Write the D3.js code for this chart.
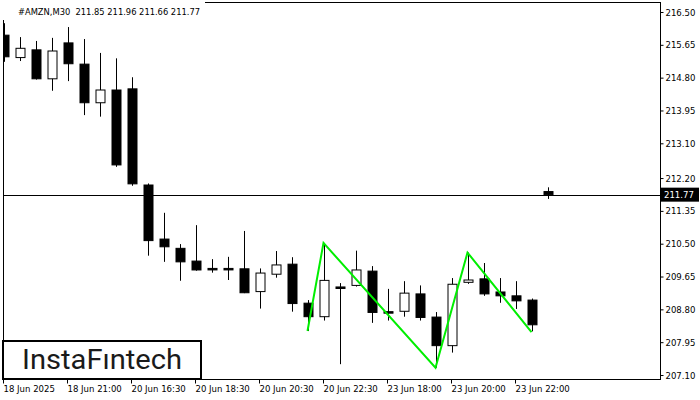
<!DOCTYPE html>
<html><head><meta charset="utf-8">
<script src="https://cdn.jsdelivr.net/npm/d3@7"></script>
<style>
html,body{margin:0;padding:0;background:#fff;}
svg{display:block;}
</style>
</head><body>
<svg id="chart" width="700" height="400"></svg>
<script>
// ---- data ----
const opens  = [215.90,215.32,215.52,214.77,215.70,215.15,214.15,214.48,214.51,212.02,210.62,210.38,210.05,209.86,209.86,209.85,209.26,209.71,209.97,208.96,208.61,209.38,209.42,209.79,208.74,208.75,209.20,208.60,207.86,209.50,209.59,209.25,209.15,209.04,211.85];
const highs  = [216.21,215.85,215.75,215.83,216.11,215.80,215.44,215.30,214.81,212.06,211.30,210.49,210.98,210.10,210.16,210.83,209.86,210.31,210.15,209.04,210.52,209.48,210.32,209.92,209.33,209.53,209.42,208.73,209.61,210.27,210.00,209.61,209.53,209.08,211.96];
const lows   = [215.21,215.23,214.75,214.46,214.71,213.83,213.79,212.49,212.00,210.19,210.03,209.54,209.80,209.75,209.56,209.22,208.82,209.62,208.74,208.24,208.51,207.38,209.39,208.45,208.51,208.61,208.51,207.29,207.68,209.46,209.15,208.97,208.81,208.23,211.66];
const closes = [215.34,215.56,214.77,215.49,215.16,214.15,214.48,212.54,212.05,210.58,210.42,210.03,209.82,209.83,209.83,209.23,209.74,209.95,208.95,208.61,209.55,209.34,209.82,208.72,208.72,209.22,208.59,207.86,209.45,209.56,209.20,209.15,209.02,208.40,211.77];
const barIndex = [0,1,2,3,4,5,6,7,8,9,10,11,12,13,14,15,16,17,18,19,20,21,22,23,24,25,26,27,28,29,30,31,32,33,34];

const yTickValues = [216.50,215.65,214.80,213.95,213.10,212.20,211.35,210.50,209.65,208.80,207.95,207.10];
const xTickIndex  = [0,4,8,12,16,20,24,28,32];
const xTickLabels = ["18 Jun 2025","18 Jun 21:00","20 Jun 16:30","20 Jun 18:30","20 Jun 20:30","20 Jun 22:30","23 Jun 18:00","23 Jun 20:00","23 Jun 22:00"];

const patternIdx   = [19,20,27,29,33];
const patternPrice = [208.24,210.52,207.29,210.27,208.21];

const currentPrice = 211.77;
const title = "#AMZN,M30  211.85 211.96 211.66 211.77";
const logoText = "InstaFıntech";

// ---- layout ----
const svg = d3.select("#chart");
const L = 3, R = 660, T = 3, B = 379;
const font = "'DejaVu Sans Condensed','DejaVu Sans',sans-serif";

const y = d3.scaleLinear().domain([207.10, 216.50]).range([375, 12]);
const x = d3.scaleLinear().domain([0, 1]).range([L + 0.5, L + 16.5]);

const plot = svg.append("g");
svg.append("defs").append("clipPath").attr("id","clip")
  .append("rect").attr("x",L).attr("y",T).attr("width",R-L).attr("height",B-T);
const cg = plot.append("g").attr("clip-path","url(#clip)");

// current price line
cg.append("line").attr("x1",L).attr("x2",R)
  .attr("y1",Math.round(y(currentPrice))+0.5).attr("y2",Math.round(y(currentPrice))+0.5)
  .attr("stroke","#000").attr("stroke-width",1);

// candles
const bw = 9;
const cand = cg.selectAll("g.c").data(barIndex).enter().append("g").attr("class","c");
cand.append("line")
  .attr("x1",i=>Math.round(x(i))+0.5).attr("x2",i=>Math.round(x(i))+0.5)
  .attr("y1",i=>y(highs[i])).attr("y2",i=>y(lows[i]))
  .attr("stroke","#000").attr("stroke-width",1);
cand.append("rect")
  .attr("x",i=>Math.round(x(i))-4)
  .attr("width",bw)
  .attr("y",i=>y(Math.max(opens[i],closes[i])))
  .attr("height",i=>Math.max(1.5, Math.abs(y(opens[i])-y(closes[i]))))
  .attr("fill",i=>closes[i]>=opens[i] ? "#fff" : "#000")
  .attr("stroke","#000").attr("stroke-width",1);

// pattern line
cg.append("path")
  .datum(patternIdx.map((d,k)=>[x(d), y(patternPrice[k])]))
  .attr("d", d3.line())
  .attr("fill","none").attr("stroke","#00ee00").attr("stroke-width",2);

// frame
plot.append("line").attr("x1",L+0.5).attr("x2",L+0.5).attr("y1",T).attr("y2",B).attr("stroke","#000");
plot.append("line").attr("x1",R+0.5).attr("x2",R+0.5).attr("y1",T).attr("y2",B+0.5).attr("stroke","#000");
plot.append("line").attr("x1",L).attr("x2",R+1).attr("y1",B+0.5).attr("y2",B+0.5).attr("stroke","#000");
plot.append("line").attr("x1",L).attr("x2",R+1).attr("y1",T-0.5).attr("y2",T-0.5).attr("stroke","#000");

// y axis
const yAxis = d3.axisRight(y).tickValues(yTickValues).tickFormat(d3.format(".2f")).tickSize(3).tickPadding(2);
const ya = svg.append("g").attr("transform",`translate(${R+0.5},0)`).call(yAxis);
ya.select(".domain").remove();
ya.selectAll("text").attr("font-family",font).attr("font-size","9.5px").attr("fill","#000");
ya.selectAll("line").attr("stroke","#000");

// x axis
const xAxis = d3.axisBottom(x).tickValues(xTickIndex).tickFormat((d,k)=>xTickLabels[k]).tickSize(4).tickPadding(2);
const xa = svg.append("g").attr("transform",`translate(0,${B+0.5})`).call(xAxis);
xa.select(".domain").remove();
xa.selectAll("line").attr("stroke","#000").attr("transform","translate(-0.5,0)");
xa.selectAll("text").attr("font-family",font).attr("font-size","9.5px").attr("fill","#000")
  .attr("text-anchor","start").attr("dx","-0.5");

// current price label
const cy = y(currentPrice);
svg.append("rect").attr("x",661).attr("y",cy-7).attr("width",38).attr("height",14).attr("fill","#000");
svg.append("text").attr("x",664).attr("y",cy+3.5).attr("font-family",font).attr("font-size","9.5px")
  .attr("fill","#fff").text(d3.format(".2f")(currentPrice));

// title
svg.append("rect").attr("x",0).attr("y",0).attr("width",205).attr("height",20).attr("fill","#fff");
svg.append("text").attr("x",18).attr("y",14.5).attr("font-family",font).attr("font-size","9.5px")
  .attr("fill","#000").attr("xml:space","preserve").style("white-space","pre")
  .attr("textLength",182).attr("lengthAdjust","spacingAndGlyphs").text(title);

// logo
svg.append("rect").attr("x",3).attr("y",341).attr("width",198).attr("height",38)
  .attr("fill","#fff").attr("stroke","#000").attr("stroke-width",2);
svg.append("text").attr("x",22).attr("y",369).attr("font-family","Roboto, 'Noto Sans', sans-serif")
  .attr("font-weight",400).attr("font-size","27px").attr("fill","#1a1a1a")
  .attr("textLength",160).attr("lengthAdjust","spacingAndGlyphs").text(logoText);
</script>
</body></html>
